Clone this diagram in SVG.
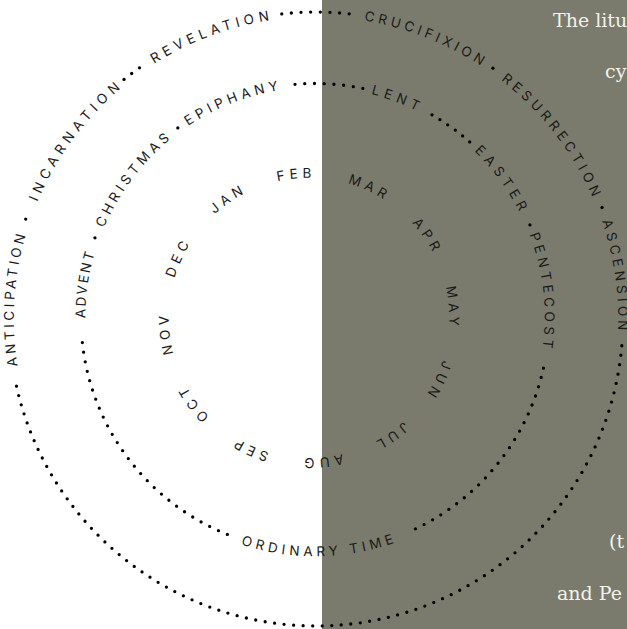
<svg xmlns="http://www.w3.org/2000/svg" width="627" height="629" viewBox="0 0 627 629">
<style>
.lab{font-family:Inter,"DejaVu Sans",sans-serif;font-size:13.5px;font-weight:400;fill:#1a1a1a;}
.mon{font-family:Inter,"DejaVu Sans",sans-serif;font-size:13.5px;font-weight:400;fill:#1a1a1a;letter-spacing:4.6px;}
.dots{fill:none;stroke:#000;stroke-width:3.3;stroke-linecap:round;}
.dot{fill:#000;}
.side{font-family:"DejaVu Serif","Liberation Serif",serif;font-size:19px;fill:#f3f2ec;}
</style>
<defs>
<path id="outerPath" d="M 316 621.2 A 302.2 302.2 0 1 1 316 16.8 A 302.2 302.2 0 1 1 316 621.2"/>
<path id="innerPath" d="M 513.49 432.1 A 229.2 229.2 0 1 1 116.51 202.9 A 229.2 229.2 0 1 1 513.49 432.1"/>
<path id="ordinaryPath" d="M 108.19 436.9 A 238.8 238.8 0 0 0 521.81 436.9"/>
<path id="monthPath" d="M 356.95 449.75 A 140.2 140.2 0 1 1 261.05 186.25 A 140.2 140.2 0 1 1 356.95 449.75"/>
</defs>
<g id="background">
<rect x="0" y="0" width="627" height="629" fill="#ffffff"/>
<rect x="322" y="0" width="305" height="629" fill="#7a7b6d"/>
</g>
<g id="connectors">
<path class="dots" d="M 621.83 345.76 A 307 307 0 0 1 14.54 377.05" stroke-dasharray="0 9.555"/>
<path class="dots" d="M 281.78 13.91 A 307 307 0 0 1 349.16 13.80" stroke-dasharray="0 9.64"/>
<path class="dots" d="M 543.45 368.15 A 234 234 0 0 1 406.81 532.74" stroke-dasharray="0 9.66"/>
<path class="dots" d="M 227.34 534.46 A 234 234 0 0 1 81.51 333.01" stroke-dasharray="0 9.71"/>
<path class="dots" d="M 295.01 84.35 A 234 234 0 0 1 362.85 88.44" stroke-dasharray="0 9.74"/>
<path class="dots" d="M 432 114.85 A 234 234 0 0 1 469.75 141.97" stroke-dasharray="0 9.3"/>
<circle class="dot" cx="25.73" cy="219.05" r="1.65"/>
<circle class="dot" cx="124.05" cy="79.41" r="1.65"/>
<circle class="dot" cx="131.67" cy="73.50" r="1.65"/>
<circle class="dot" cx="139.47" cy="67.83" r="1.65"/>
<circle class="dot" cx="492.96" cy="68.14" r="1.65"/>
<circle class="dot" cx="602.03" cy="207.48" r="1.65"/>
<circle class="dot" cx="94.97" cy="237.85" r="1.65"/>
<circle class="dot" cx="177.81" cy="127.92" r="1.65"/>
<circle class="dot" cx="529.92" cy="224.94" r="1.65"/>
</g>
<g id="outer-ring">
<text class="lab"><textPath href="#outerPath" startOffset="493.2" text-anchor="middle" textLength="132" lengthAdjust="spacing">ANTICIPATION</textPath></text>
<text class="lab"><textPath href="#outerPath" startOffset="665.6" text-anchor="middle" textLength="142" lengthAdjust="spacing">INCARNATION</textPath></text>
<text class="lab"><textPath href="#outerPath" startOffset="840.2" text-anchor="middle" textLength="124" lengthAdjust="spacing">REVELATION</textPath></text>
<text class="lab"><textPath href="#outerPath" startOffset="1060.2" text-anchor="middle" textLength="126" lengthAdjust="spacing">CRUCIFIXION</textPath></text>
<text class="lab"><textPath href="#outerPath" startOffset="1223.1" text-anchor="middle" textLength="150" lengthAdjust="spacing">RESURRECTION</textPath></text>
<text class="lab"><textPath href="#outerPath" startOffset="1379.3" text-anchor="middle" textLength="111" lengthAdjust="spacing">ASCENSION</textPath></text>
</g>
<g id="inner-ring">
<text class="lab"><textPath href="#ordinaryPath" startOffset="252.6" text-anchor="middle" textLength="156" lengthAdjust="spacing">ORDINARY TIME</textPath></text>
<text class="lab"><textPath href="#innerPath" startOffset="634" text-anchor="middle" textLength="66" lengthAdjust="spacing">ADVENT</textPath></text>
<text class="lab"><textPath href="#innerPath" startOffset="749.7" text-anchor="middle" textLength="112" lengthAdjust="spacing">CHRISTMAS</textPath></text>
<text class="lab"><textPath href="#innerPath" startOffset="876.9" text-anchor="middle" textLength="98" lengthAdjust="spacing">EPIPHANY</textPath></text>
<text class="lab"><textPath href="#innerPath" startOffset="1043.3" text-anchor="middle" textLength="49" lengthAdjust="spacing">LENT</textPath></text>
<text class="lab"><textPath href="#innerPath" startOffset="1176.1" text-anchor="middle" textLength="76" lengthAdjust="spacing">EASTER</textPath></text>
<text class="lab"><textPath href="#innerPath" startOffset="1296.5" text-anchor="middle" textLength="115" lengthAdjust="spacing">PENTECOST</textPath></text>
</g>
<g id="months">
<text class="mon"><textPath href="#monthPath" startOffset="36.6" text-anchor="middle">AUG</textPath></text>
<text class="mon"><textPath href="#monthPath" startOffset="108.7" text-anchor="middle">SEP</textPath></text>
<text class="mon"><textPath href="#monthPath" startOffset="180.9" text-anchor="middle">OCT</textPath></text>
<text class="mon"><textPath href="#monthPath" startOffset="254.3" text-anchor="middle">NOV</textPath></text>
<text class="mon"><textPath href="#monthPath" startOffset="330.2" text-anchor="middle">DEC</textPath></text>
<text class="mon"><textPath href="#monthPath" startOffset="406" text-anchor="middle">JAN</textPath></text>
<text class="mon"><textPath href="#monthPath" startOffset="477" text-anchor="middle">FEB</textPath></text>
<text class="mon"><textPath href="#monthPath" startOffset="550.4" text-anchor="middle">MAR</textPath></text>
<text class="mon"><textPath href="#monthPath" startOffset="625.1" text-anchor="middle">APR</textPath></text>
<text class="mon"><textPath href="#monthPath" startOffset="699.7" text-anchor="middle">MAY</textPath></text>
<text class="mon"><textPath href="#monthPath" startOffset="773.1" text-anchor="middle">JUN</textPath></text>
<text class="mon"><textPath href="#monthPath" startOffset="845.3" text-anchor="middle">JUL</textPath></text>
</g>
<g id="side-text">
<text class="side" x="553" y="27">The litu</text>
<text class="side" x="605" y="78">cy</text>
<text class="side" x="609" y="548">(t</text>
<text class="side" x="557" y="600">and Pe</text>
</g>
</svg>
